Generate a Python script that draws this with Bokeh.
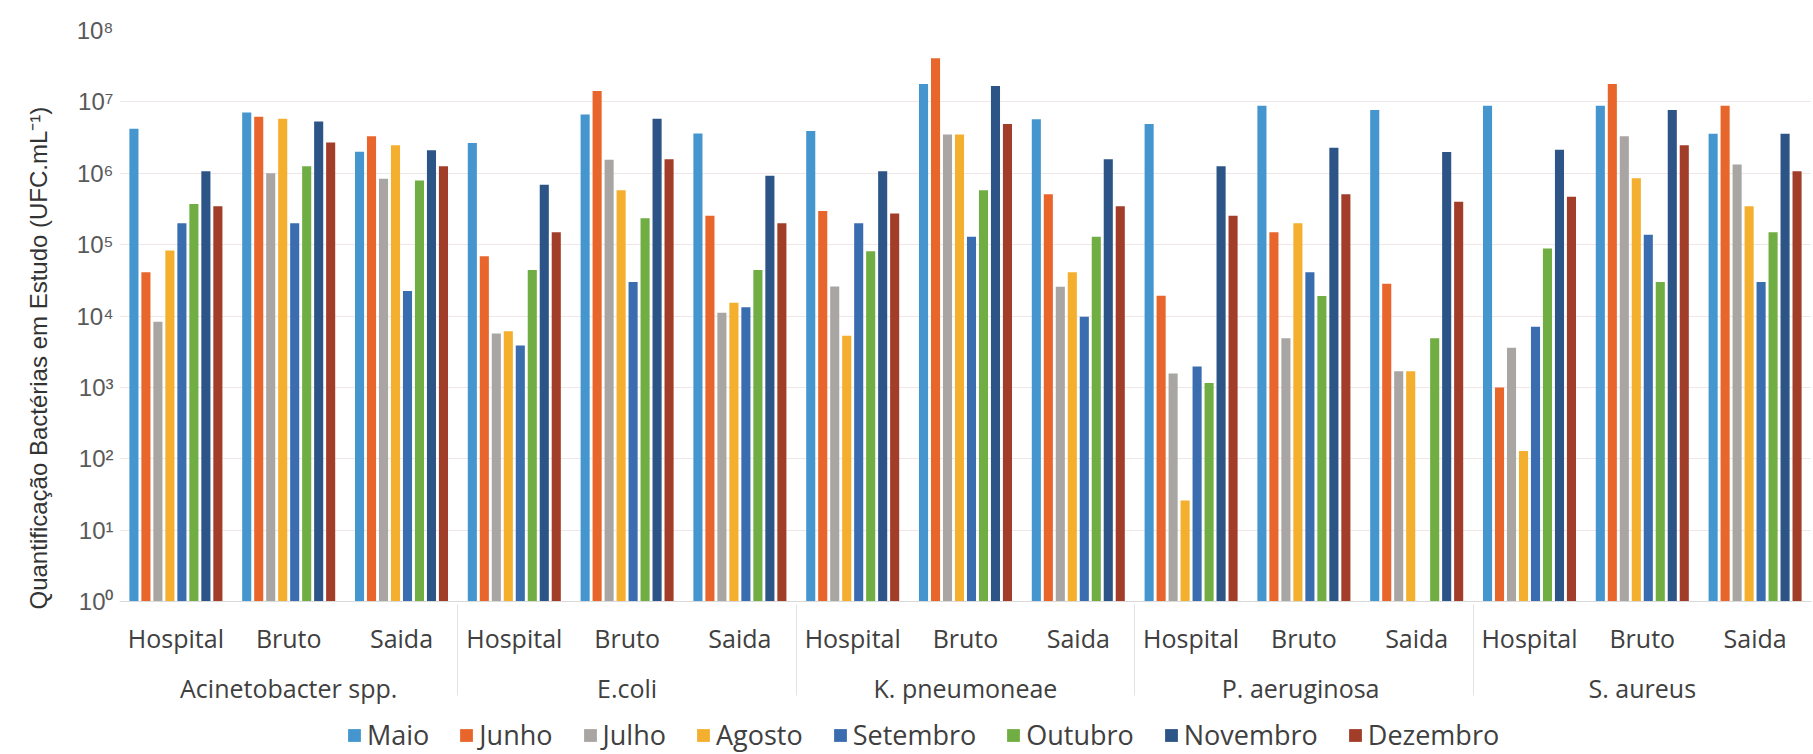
from bokeh.plotting import figure
from bokeh.models import (FactorRange, Range1d, ColumnDataSource, FixedTicker,
                          CustomJSTickFormatter, Legend, LegendItem, Title)
from bokeh.transform import dodge
from bokeh.embed import file_html
from bokeh.resources import INLINE

nan = float("nan")

# Categories
bacteria = ["Acinetobacter spp.", "E.coli", "K. pneumoneae", "P.  aeruginosa", "S. aureus"]
sites = ["Hospital", "Bruto", "Saida"]
months = ["Maio", "Junho", "Julho", "Agosto", "Setembro", "Outubro", "Novembro", "Dezembro"]

# UFC/mL per (bacterium, site), in the order of `bacteria` x `sites`
maio = [4.2e6, 7.1e6, 2.0e6, 2.66e6, 6.65e6, 3.6e6, 3.9e6, 1.78e7, 5.7e6, 4.9e6, 8.8e6, 7.7e6, 8.8e6, 8.8e6, 3.57e6]
junho = [4.1e4, 6.2e6, 3.3e6, 6.9e4, 1.42e7, 2.54e5, 2.96e5, 4.1e7, 5.1e5, 1.92e4, 1.49e5, 2.83e4, 1.0e3, 1.78e7, 8.8e6]
julho = [8.3e3, 1.0e6, 8.4e5, 5.7e3, 1.55e6, 1.11e4, 2.6e4, 3.5e6, 2.58e4, 1.56e3, 4.9e3, 1.68e3, 3.6e3, 3.3e6, 1.33e6]
agosto = [8.3e4, 5.8e6, 2.46e6, 6.1e3, 5.8e5, 1.53e4, 5.3e3, 3.5e6, 4.1e4, 26, 2.0e5, 1.68e3, 128, 8.5e5, 3.45e5]
setembro = [2.0e5, 2.0e5, 2.25e4, 3.85e3, 3.0e4, 1.33e4, 2.0e5, 1.29e5, 9.8e3, 1.96e3, 4.1e4, nan, 7.1e3, 1.38e5, 3.0e4]
outubro = [3.7e5, 1.25e6, 7.9e5, 4.4e4, 2.35e5, 4.4e4, 8.1e4, 5.8e5, 1.29e5, 1.15e3, 1.9e4, 4.9e3, 8.8e4, 3.0e4, 1.49e5]
novembro = [1.07e6, 5.3e6, 2.1e6, 6.9e5, 5.8e6, 9.2e5, 1.07e6, 1.67e7, 1.57e6, 1.25e6, 2.28e6, 1.98e6, 2.14e6, 7.7e6, 3.57e6]
dezembro = [3.45e5, 2.7e6, 1.25e6, 1.49e5, 1.57e6, 2.0e5, 2.74e5, 4.9e6, 3.45e5, 2.54e5, 5.1e5, 4.0e5, 4.7e5, 2.46e6, 1.07e6]

series = [maio, junho, julho, agosto, setembro, outubro, novembro, dezembro]
colors = ["#4596CF", "#E8662C", "#A8A5A3", "#F4AF2E", "#3A6DAF", "#70AE43", "#2C5487", "#A23D29"]

# y-axis decades
exponents = list(range(0, 9))
y_ticks = [10 ** e for e in exponents]
baseline = 1

factors = [(b, s) for b in bacteria for s in sites]

x_range = FactorRange(*factors, range_padding=0, group_padding=0, subgroup_padding=0, factor_padding=0)

# The frame runs to the bottom of the canvas; the lower part (below 10^0) holds the
# category axis and the legend.
p = figure(width=1813, height=754, x_range=x_range, y_range=Range1d(10 ** -2.143, 1e8),
           y_axis_type="log", output_backend="svg", toolbar_location=None,
           min_border_left=118, min_border_right=2, min_border_top=30, min_border_bottom=0)
p.outline_line_color = None
p.background_fill_color = "white"
p.border_fill_color = "white"

pitch = 0.1063
bar_w = 0.0806
renderers = []
for i, (m, vals, c) in enumerate(zip(months, series, colors)):
    src = ColumnDataSource(dict(x=factors, top=vals, bottom=[baseline] * len(vals)))
    r = p.vbar(x=dodge("x", (i - 3.5) * pitch, range=p.x_range), top="top", bottom="bottom",
               width=bar_w, source=src, fill_color=c, line_color=None)
    renderers.append(r)

# y axis
yax = p.yaxis[0]
yax.ticker = FixedTicker(ticks=y_ticks)
yax.formatter = CustomJSTickFormatter(code="""
    const sup = {'0':'\u2070','1':'\u00b9','2':'\u00b2','3':'\u00b3','4':'\u2074','5':'\u2075',
                 '6':'\u2076','7':'\u2077','8':'\u2078','9':'\u2079','-':'\u207b'};
    const e = Math.round(Math.log10(tick));
    return '10' + String(e).split('').map(c => sup[c]).join('');
""")
yax.axis_line_color = None
yax.major_tick_line_color = None
yax.minor_tick_line_color = None
yax.major_label_text_font = "Liberation Sans"
yax.major_label_text_font_size = "24px"
yax.major_label_text_color = "#595959"
yax.major_label_standoff = 0

p.ygrid.ticker = FixedTicker(ticks=y_ticks)
p.ygrid.grid_line_color = "#F1E6E6"
p.ygrid.grid_line_width = 1
p.xgrid.grid_line_color = None

# x axis (site / bacterium), drawn along the 10^0 baseline
xax = p.xaxis[0]
xax.fixed_location = baseline
xax.axis_line_color = "#D9D9D9"
xax.major_tick_line_color = None
xax.minor_tick_line_color = None
xax.major_label_text_font = "Open Sans"
xax.major_label_text_font_size = "25px"
xax.major_label_text_color = "#404040"
xax.major_label_standoff = 13
xax.group_text_font = "Open Sans"
xax.group_text_font_size = "25px"
xax.group_text_color = "#404040"
xax.group_text_font_style = "normal"
xax.separator_line_color = "#E3E3E3"
xax.separator_line_width = 1

# y-axis title, in its own panel on the left, starting level with the category labels
ytitle = Title(text="Quantificação Bactérias em Estudo (UFC.mL\u207b\u00b9)", align="left",
               text_font="Liberation Sans", text_font_size="24px", text_font_style="normal",
               text_color="#333333", offset=145, standoff=44)
p.add_layout(ytitle, "left")

legend = Legend(items=[LegendItem(label=m, renderers=[r]) for m, r in zip(months, renderers)],
                orientation="horizontal", location=(227, 1),
                label_text_font="Open Sans", label_text_font_size="27px", label_text_color="#404040",
                glyph_width=16, glyph_height=16, label_standoff=5, spacing=29,
                padding=0, margin=0, border_line_color=None, background_fill_alpha=0)
p.add_layout(legend)

open("out.html", "w").write(file_html(p, INLINE))
